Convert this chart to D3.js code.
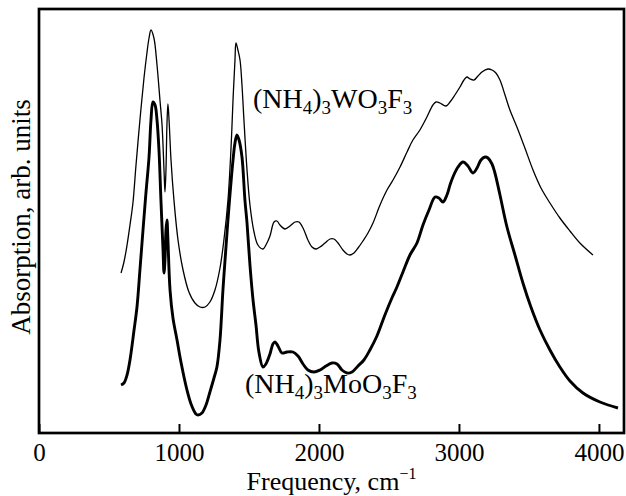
<!DOCTYPE html>
<html>
<head>
<meta charset="utf-8">
<script src="https://cdn.jsdelivr.net/npm/d3@7"></script>
<style>
  body { margin: 0; background: #fff; }
  svg text { font-family: "Liberation Serif", "Times New Roman", serif; fill: #000; }
</style>
</head>
<body>
<div id="chart"></div>
<script>
// IR spectra (frequency in cm^-1, absorption in arb. units)
const freqW = [586, 607, 629, 650, 671, 693, 721, 750, 771, 786, 800, 821, 843, 864, 879, 893, 900, 907, 914, 921,
  929, 943, 964, 993, 1029, 1071, 1114, 1150, 1186, 1221, 1257, 1293, 1321, 1350, 1371, 1386, 1400, 1407, 1421, 1436,
  1450, 1464, 1486, 1507, 1536, 1564, 1600, 1621, 1650, 1679, 1700, 1721, 1757, 1793, 1829, 1857, 1886, 1921, 1950, 1979,
  2007, 2043, 2079, 2107, 2136, 2171, 2200, 2221, 2250, 2279, 2314, 2350, 2386, 2436, 2486, 2529, 2579, 2629, 2671, 2721,
  2771, 2814, 2836, 2864, 2907, 2936, 2971, 3007, 3036, 3057, 3079, 3107, 3136, 3164, 3207, 3236, 3264, 3293, 3329, 3364,
  3414, 3471, 3529, 3586, 3650, 3721, 3793, 3864, 3957];
const absW = [40, 42.75, 47, 52, 57.5, 67, 78.25, 88.75, 95, 98.75, 100.75, 98.75, 92, 83.25, 77, 65.75, 60.25, 65.75, 77, 82.25,
  78.25, 68.25, 58.25, 48.25, 40.75, 35.25, 32.5, 31.5, 31.5, 32.75, 35.75, 41.25, 48.25, 58.25, 70.75, 83.25, 93.25, 97.5, 95.75, 93.25,
  87, 78.25, 65.75, 57, 50.25, 47, 46, 47, 49.25, 52.75, 53, 52, 51, 51.75, 52.75, 52.75, 51.25, 48.25, 46.5, 46,
  46.5, 47.5, 48.5, 48.5, 47.5, 45.75, 44.75, 44.5, 45, 46.25, 48, 50, 52.5, 57, 60.75, 63.25, 66.5, 70.25, 73.25, 75.75,
  79, 82, 82.75, 82.5, 81.75, 82.75, 84.5, 86.5, 88.25, 89, 88.5, 88.25, 89.25, 90.25, 91, 90.75, 90, 88.25, 84.5, 80.75,
  76.5, 71.25, 65.75, 61.25, 57.5, 53.75, 50.5, 47.5, 44.5];

const freqMo = [586, 607, 629, 650, 679, 700, 721, 743, 764, 786, 800, 814, 829, 843, 857, 871, 886, 893, 900, 907,
  914, 921, 936, 957, 986, 1014, 1057, 1086, 1121, 1136, 1164, 1193, 1221, 1250, 1271, 1293, 1314, 1329, 1357, 1386,
  1400, 1414, 1429, 1450, 1471, 1486, 1507, 1529, 1550, 1571, 1600, 1621, 1650, 1671, 1686, 1707, 1736, 1771, 1814, 1850,
  1886, 1921, 1964, 2007, 2050, 2093, 2129, 2164, 2200, 2236, 2279, 2321, 2364, 2414, 2471, 2521, 2557, 2600, 2650, 2700,
  2743, 2786, 2829, 2857, 2886, 2914, 2936, 2957, 2993, 3029, 3064, 3100, 3129, 3157, 3186, 3207, 3236, 3257, 3293, 3343,
  3400, 3457, 3514, 3579, 3650, 3721, 3793, 3886, 4007, 4136];
const absMo = [12, 12.5, 14.5, 18.25, 25.75, 31.5, 40.75, 50.75, 60, 69, 78.25, 82.75, 82, 78.25, 70.75, 58.25, 45.75, 40, 43.25, 50.75,
  53.25, 48.25, 35.75, 28.75, 23.25, 17.75, 10.75, 7.25, 4.75, 4.5, 5, 7, 10.25, 13.75, 16.5, 23.25, 35.75, 43.25, 56.5, 68.25,
  72.5, 74.5, 73.25, 69, 58.25, 52.5, 42, 33.25, 27, 20.25, 16.5, 17.25, 19.75, 22.25, 22.75, 21.75, 20, 20.25, 20.25, 19.25,
  17.25, 15.75, 15.25, 15.75, 16.75, 17.5, 17.25, 15.75, 15, 15.25, 16.75, 18.25, 20.75, 24.25, 29.5, 33.75, 36.5, 40.25, 44.5, 47.5,
  52, 55.75, 59, 58.75, 57.75, 59.5, 62, 64, 66.5, 67.75, 66.75, 65, 66.25, 68.25, 69, 68.75, 67.25, 65, 59.5, 51.5,
  44.5, 37.5, 31.5, 25.75, 20.75, 16.5, 13, 10, 7.75, 6.25];

const xTicks = [0, 1000, 2000, 3000, 4000];

const width = 626, height = 496;
const margin = { top: 9, right: 2, bottom: 63, left: 39 };

const svg = d3.select("#chart").append("svg")
  .attr("width", width)
  .attr("height", height);

const x = d3.scaleLinear().domain([0, 4179]).range([margin.left, width - margin.right]);
const y = d3.scaleLinear().domain([0, 106]).range([height - margin.bottom, margin.top]);

const line = d3.line()
  .x(d => x(d[0]))
  .y(d => y(d[1]))
  .curve(d3.curveCatmullRom.alpha(0.5));

svg.append("path")
  .datum(d3.zip(freqW, absW))
  .attr("d", line)
  .attr("fill", "none")
  .attr("stroke", "#000")
  .attr("stroke-width", 1.3);

svg.append("path")
  .datum(d3.zip(freqMo, absMo))
  .attr("d", line)
  .attr("fill", "none")
  .attr("stroke", "#000")
  .attr("stroke-width", 2.9);

// x axis, ticks pointing inward
const xAxis = svg.append("g")
  .attr("transform", `translate(0,${height - margin.bottom})`)
  .call(d3.axisBottom(x).tickValues(xTicks).tickFormat(d3.format("d"))
    .tickSizeInner(-9).tickSizeOuter(0).tickPadding(10));
xAxis.select(".domain").remove();
xAxis.selectAll(".tick line").attr("stroke-width", 2);
xAxis.selectAll(".tick text")
  .attr("font-family", "Liberation Serif")
  .attr("font-size", 25);

// frame
svg.append("rect")
  .attr("x", margin.left)
  .attr("y", margin.top)
  .attr("width", width - margin.left - margin.right)
  .attr("height", height - margin.top - margin.bottom)
  .attr("fill", "none")
  .attr("stroke", "#000")
  .attr("stroke-width", 2.7);

// axis titles
const xTitle = svg.append("text")
  .attr("x", (margin.left + width - margin.right) / 2)
  .attr("y", 490)
  .attr("text-anchor", "middle")
  .attr("font-size", 26);
xTitle.append("tspan").text("Frequency, cm");
xTitle.append("tspan").attr("font-size", 16).attr("dy", -11).text("\u22121");

svg.append("text")
  .attr("transform", "translate(30,217) rotate(-90)")
  .attr("text-anchor", "middle")
  .attr("font-size", 27)
  .text("Absorption, arb. units");

// formula labels with subscripts
function formula(xPos, yPos, parts) {
  const t = svg.append("text")
    .attr("x", xPos)
    .attr("y", yPos)
    .attr("font-size", 28);
  let shift = 0;
  parts.forEach(p => {
    const sub = typeof p !== "string";
    const s = sub ? p[0] : p;
    const dy = (sub ? 6 : 0) - shift;
    shift = sub ? 6 : 0;
    t.append("tspan")
      .attr("dy", dy)
      .attr("font-size", sub ? 19 : 28)
      .text(s);
  });
}

formula(253, 108, ["(NH", ["4"], ")", ["3"], "WO", ["3"], "F", ["3"]]);
formula(245, 393, ["(NH", ["4"], ")", ["3"], "MoO", ["3"], "F", ["3"]]);
</script>
</body>
</html>
